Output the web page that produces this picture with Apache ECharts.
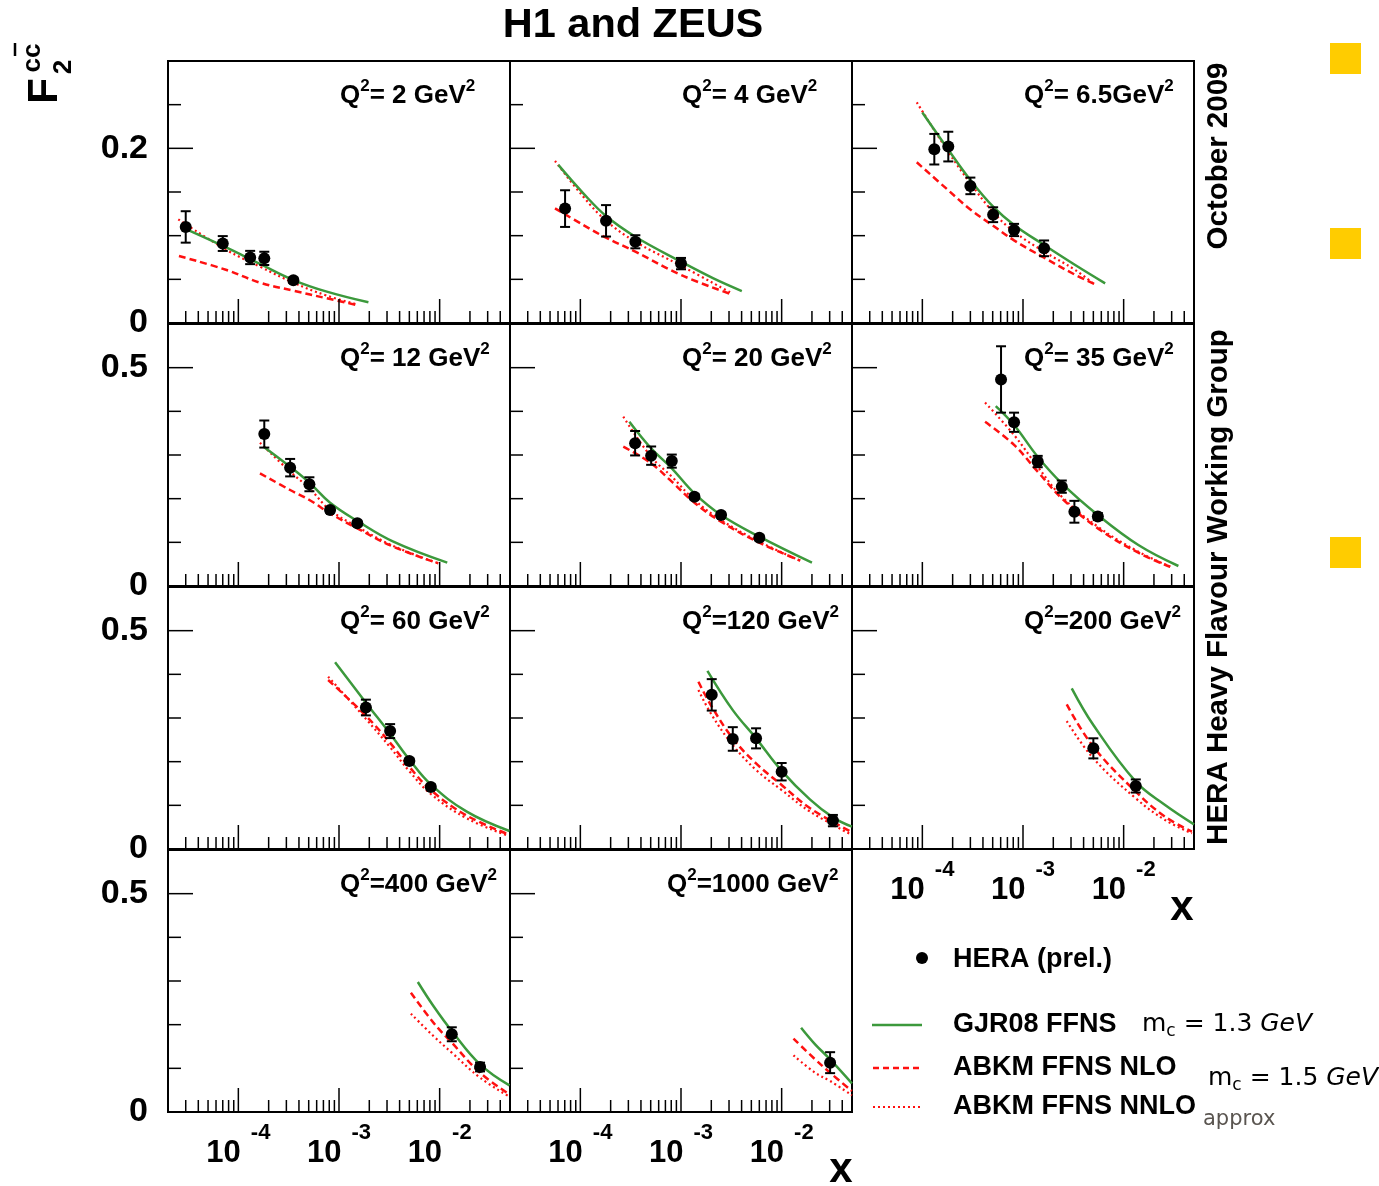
<!DOCTYPE html>
<html><head><meta charset="utf-8">
<script src="https://cdn.jsdelivr.net/npm/echarts@6/dist/echarts.min.js"></script>
<style>html,body{margin:0;padding:0;background:#fff}#c{width:1379px;height:1186px}</style>
</head><body><div id="c"></div>
<script>
// ================= DATA =================
// HERA points: [x, F2cc, total error]; theory curves: [x, F2cc]
const panelLabels = ['= 2 GeV','= 4 GeV','= 6.5GeV','= 12 GeV','= 20 GeV','= 35 GeV','= 60 GeV','=120 GeV','=200 GeV','=400 GeV','=1000 GeV'];

const hera_2   = [[3.0e-5,0.110,0.018],[7.0e-5,0.091,0.0085],[1.31e-4,0.075,0.0076],[1.81e-4,0.074,0.0076],[3.52e-4,0.049,0.003]];
const gjr_2    = [[3.26e-5,0.1057],[7.65e-5,0.0862],[1.64e-4,0.0676],[3.52e-4,0.0492],[7.57e-4,0.0359],[1.96e-3,0.0237]];
const nlo_2    = [[2.57e-5,0.0767],[7.65e-5,0.0607],[1.64e-4,0.0462],[3.52e-4,0.037],[7.57e-4,0.0283],[1.5e-3,0.0206]];
const nnlo_2   = [[2.53e-5,0.1187],[7.65e-5,0.0836],[1.64e-4,0.0645],[3.52e-4,0.0462],[7.57e-4,0.0313],[1.5e-3,0.0214]];

const hera_4   = [[7.05e-5,0.131,0.021],[1.8e-4,0.117,0.018],[3.52e-4,0.093,0.0075],[1.0e-3,0.068,0.0065]];
const gjr_4    = [[6.04e-5,0.181],[1.07e-4,0.1485],[1.8e-4,0.1225],[3.52e-4,0.0988],[1.0e-3,0.0702],[2.1e-3,0.0511],[4.02e-3,0.0366]];
const nlo_4    = [[5.6e-5,0.1313],[1.07e-4,0.1122],[1.8e-4,0.0977],[3.52e-4,0.0817],[1.0e-3,0.055],[3.2e-3,0.0328]];
const nnlo_4   = [[5.6e-5,0.1855],[1.07e-4,0.1446],[1.8e-4,0.1172],[3.52e-4,0.0931],[1.0e-3,0.0656],[3.2e-3,0.034]];

const hera_6p5 = [[1.315e-4,0.199,0.0175],[1.81e-4,0.202,0.017],[3.0e-4,0.157,0.0095],[5.05e-4,0.124,0.0085],[8.15e-4,0.1065,0.007],[1.62e-3,0.0855,0.009]];
const gjr_6p5  = [[1.0e-4,0.241],[1.81e-4,0.1985],[3.0e-4,0.1637],[5.05e-4,0.1332],[8.15e-4,0.1122],[1.62e-3,0.0893],[3.3e-3,0.0664],[6.55e-3,0.0454]];
const nlo_6p5  = [[8.8e-5,0.184],[1.81e-4,0.152],[3.0e-4,0.130],[5.05e-4,0.1114],[8.15e-4,0.0946],[1.62e-3,0.0748],[3.3e-3,0.0552],[5.2e-3,0.0443]];
const nnlo_6p5 = [[8.8e-5,0.2527],[1.81e-4,0.196],[3.0e-4,0.16],[5.05e-4,0.127],[8.15e-4,0.1046],[1.62e-3,0.0817],[3.3e-3,0.0607],[5.2e-3,0.0435]];

const hera_12  = [[1.81e-4,0.348,0.031],[3.27e-4,0.271,0.02],[5.08e-4,0.233,0.016],[8.15e-4,0.174,0.006],[1.52e-3,0.1435,0.006]];
const gjr_12   = [[1.78e-4,0.319],[3.27e-4,0.273],[5.08e-4,0.2366],[8.15e-4,0.1908],[1.52e-3,0.149],[3.47e-3,0.1015],[1.19e-2,0.0534]];
const nlo_12   = [[1.64e-4,0.258],[3.27e-4,0.2198],[5.08e-4,0.197],[8.15e-4,0.1664],[1.52e-3,0.132],[3.47e-3,0.09],[9.7e-3,0.0519]];
const nnlo_12  = [[1.64e-4,0.328],[3.27e-4,0.2618],[5.08e-4,0.2237],[8.15e-4,0.174],[1.52e-3,0.1358],[3.47e-3,0.0916],[9.7e-3,0.0519]];

const hera_20  = [[3.5e-4,0.327,0.028],[5.05e-4,0.2985,0.021],[8.1e-4,0.286,0.015],[1.36e-3,0.2046,0.006],[2.5e-3,0.1626,0.006],[6.0e-3,0.1107,0.006]];
const gjr_20   = [[3.07e-4,0.3763],[5.05e-4,0.3153],[8.1e-4,0.2695],[1.36e-3,0.2122],[2.5e-3,0.1626],[6.0e-3,0.113],[2.0e-2,0.0534]];
const nlo_20   = [[2.67e-4,0.319],[5.05e-4,0.281],[8.1e-4,0.239],[1.36e-3,0.1908],[2.5e-3,0.1473],[6.0e-3,0.0992],[1.53e-2,0.058]];
const nnlo_20  = [[2.67e-4,0.3877],[5.05e-4,0.296],[8.1e-4,0.2504],[1.36e-3,0.197],[2.5e-3,0.151],[6.0e-3,0.1015],[1.53e-2,0.058]];

const hera_35  = [[6.05e-4,0.473,0.076],[8.15e-4,0.375,0.022],[1.4e-3,0.285,0.013],[2.43e-3,0.2275,0.014],[3.24e-3,0.170,0.025],[5.54e-3,0.159,0.008]];
const gjr_35   = [[5.36e-4,0.412],[8.15e-4,0.3687],[1.4e-3,0.296],[2.43e-3,0.235],[5.54e-3,0.1626],[1.4e-2,0.0939],[3.5e-2,0.0458]];
const nlo_35   = [[4.2e-4,0.376],[8.15e-4,0.323],[1.4e-3,0.2618],[2.43e-3,0.2008],[5.54e-3,0.132],[1.4e-2,0.0763],[2.9e-2,0.044]];
const nnlo_35  = [[4.2e-4,0.42],[8.15e-4,0.3458],[1.4e-3,0.273],[2.43e-3,0.2046],[5.54e-3,0.1358],[1.4e-2,0.0786],[2.9e-2,0.0443]];

const hera_60  = [[1.85e-3,0.324,0.018],[3.22e-3,0.270,0.016],[5.0e-3,0.2015,0.006],[8.17e-3,0.142,0.006]];
const gjr_60   = [[9.14e-4,0.4275],[1.85e-3,0.335],[3.22e-3,0.264],[5.0e-3,0.205],[8.17e-3,0.148],[1.86e-2,0.0855],[4.94e-2,0.0412]];
const nlo_60   = [[7.8e-4,0.387],[1.85e-3,0.305],[3.22e-3,0.243],[5.0e-3,0.188],[8.17e-3,0.135],[1.86e-2,0.0765],[4.83e-2,0.0336]];
const nnlo_60  = [[7.8e-4,0.3947],[1.85e-3,0.298],[3.22e-3,0.233],[5.0e-3,0.178],[8.17e-3,0.126],[1.86e-2,0.0702],[4.83e-2,0.0305]];

const hera_120 = [[2.02e-3,0.353,0.036],[3.27e-3,0.252,0.027],[5.57e-3,0.2534,0.023],[1.0e-2,0.177,0.02],[3.23e-2,0.065,0.013]];
const gjr_120  = [[1.83e-3,0.408],[3.27e-3,0.318],[5.57e-3,0.2534],[1.0e-2,0.179],[1.92e-2,0.113],[3.23e-2,0.0725],[4.99e-2,0.0511]];
const nlo_120  = [[1.49e-3,0.383],[2.02e-3,0.326],[3.27e-3,0.2534],[5.57e-3,0.196],[1.0e-2,0.1466],[1.92e-2,0.0932],[4.88e-2,0.0397]];
const nnlo_120 = [[1.49e-3,0.364],[2.02e-3,0.307],[3.27e-3,0.238],[5.57e-3,0.181],[1.0e-2,0.135],[1.92e-2,0.0855],[4.88e-2,0.0336]];

const hera_200 = [[5.0e-3,0.2305,0.023],[1.32e-2,0.1443,0.015]];
const gjr_200  = [[3.05e-3,0.368],[5.0e-3,0.284],[1.32e-2,0.1542],[2.58e-2,0.1008],[5.0e-2,0.0565]];
const nlo_200  = [[2.72e-3,0.331],[5.0e-3,0.2343],[1.32e-2,0.1313],[2.58e-2,0.074],[4.77e-2,0.0397]];
const nnlo_200 = [[2.72e-3,0.293],[5.0e-3,0.2077],[1.32e-2,0.116],[2.58e-2,0.0664],[4.77e-2,0.0359]];

const hera_400 = [[1.32e-2,0.178,0.016],[2.52e-2,0.103,0.01]];
const gjr_400  = [[6.07e-3,0.2977],[8.67e-3,0.2427],[1.32e-2,0.1855],[2.52e-2,0.1092],[4.94e-2,0.061]];
const nlo_400  = [[5.18e-3,0.2733],[8.67e-3,0.2046],[1.32e-2,0.1588],[2.52e-2,0.09],[4.94e-2,0.0405]];
const nnlo_400 = [[5.18e-3,0.2252],[8.67e-3,0.174],[1.32e-2,0.1359],[2.52e-2,0.0786],[4.94e-2,0.0351]];

const hera_1000 = [[3.03e-2,0.113,0.024]];
const gjr_1000  = [[1.56e-2,0.193],[2.15e-2,0.155],[3.03e-2,0.1206],[4.99e-2,0.0657]];
const nlo_1000  = [[1.31e-2,0.168],[2.15e-2,0.1206],[3.03e-2,0.09],[4.99e-2,0.048]];
const nnlo_1000 = [[1.31e-2,0.1298],[2.15e-2,0.09],[3.03e-2,0.071],[4.99e-2,0.0382]];

// axis ticks
const xMajorTicks = [1e-4, 1e-3, 1e-2];
const xMinorTicks = [3e-5,4e-5,5e-5,6e-5,7e-5,8e-5,9e-5, 2e-4,3e-4,4e-4,5e-4,6e-4,7e-4,8e-4,9e-4,
                     2e-3,3e-3,4e-3,5e-3,6e-3,7e-3,8e-3,9e-3, 2e-2,3e-2,4e-2];
const yMajorTicksTop = [0.2];
const yMinorTicksTop = [0.05, 0.1, 0.15, 0.25];
const yMajorTicks = [0.5];
const yMinorTicks = [0.1, 0.2, 0.3, 0.4];
const X_MIN = 2e-5, X_MAX = 0.05;
const Y_MAX_TOP = 0.3, Y_MAX = 0.6;

// ================= STYLE / LAYOUT =================
const FONT = '"Liberation Sans", Arial, Helvetica, sans-serif';
const GREEN = '#3c993c', RED = '#ff1010';
const colLeft = [168, 510, 852], colWidth = 342;
const rowTop = [61, 324, 587, 850], rowHeight = 262;

const panels = [
  [hera_2, gjr_2, nlo_2, nnlo_2],
  [hera_4, gjr_4, nlo_4, nnlo_4],
  [hera_6p5, gjr_6p5, nlo_6p5, nnlo_6p5],
  [hera_12, gjr_12, nlo_12, nnlo_12],
  [hera_20, gjr_20, nlo_20, nnlo_20],
  [hera_35, gjr_35, nlo_35, nnlo_35],
  [hera_60, gjr_60, nlo_60, nnlo_60],
  [hera_120, gjr_120, nlo_120, nnlo_120],
  [hera_200, gjr_200, nlo_200, nnlo_200],
  [hera_400, gjr_400, nlo_400, nnlo_400],
  [hera_1000, gjr_1000, nlo_1000, nnlo_1000]
];
const xLabelPanels = [8, 9, 10];

function xTickRender(len) {
  return function (params, api) {
    const p = api.coord([api.value(0), api.value(1)]);
    return { type: 'line', shape: { x1: p[0], y1: p[1], x2: p[0], y2: p[1] - len },
             style: { stroke: '#000', lineWidth: 1.5 } };
  };
}
function yTickRender(len) {
  return function (params, api) {
    const p = api.coord([api.value(0), api.value(1)]);
    return { type: 'line', shape: { x1: p[0], y1: p[1], x2: p[0] + len, y2: p[1] },
             style: { stroke: '#000', lineWidth: 1.5 } };
  };
}
function errRender(params, api) {
  const x = api.value(0), y = api.value(1), e = api.value(2);
  const t = api.coord([x, y + e]), b = api.coord([x, y - e]);
  const w = 5, st = { stroke: '#000', lineWidth: 2 };
  return { type: 'group', children: [
    { type: 'line', shape: { x1: t[0], y1: t[1], x2: b[0], y2: b[1] }, style: st },
    { type: 'line', shape: { x1: t[0] - w, y1: t[1], x2: t[0] + w, y2: t[1] }, style: st },
    { type: 'line', shape: { x1: b[0] - w, y1: b[1], x2: b[0] + w, y2: b[1] }, style: st }
  ]};
}

const grids = [], xAxes = [], yAxes = [], series = [], graphics = [];

panels.forEach((pn, i) => {
  const row = Math.floor(i / 3), col = i % 3;
  const [hera, gjr, nlo, nnlo] = pn;
  grids.push({ left: colLeft[col], top: rowTop[row], width: colWidth, height: rowHeight,
    show: true, borderColor: '#000', borderWidth: 2, containLabel: false, outerBoundsMode: 'none' });
  const showX = xLabelPanels.indexOf(i) >= 0;
  xAxes.push({ gridIndex: i, type: 'log', logBase: 10, min: X_MIN, max: X_MAX,
    axisLine: { show: false }, axisTick: { show: false }, splitLine: { show: false },
    axisLabel: { show: showX, interval: 0, showMinLabel: false, showMaxLabel: false, margin: 10,
      formatter: v => '{b|10}{s|' + Math.round(Math.log10(v)) + '}',
      rich: { b: { fontSize: 31, fontWeight: 'bold', fontFamily: FONT, color: '#000' },
              s: { fontSize: 22, fontWeight: 'bold', fontFamily: FONT, color: '#000', padding: [0, 0, 40, 10] } } } });
  const top = row === 0;
  yAxes.push({ gridIndex: i, type: 'value', min: 0, max: top ? Y_MAX_TOP : Y_MAX, interval: top ? 0.2 : 0.5,
    axisLine: { show: false }, axisTick: { show: false }, splitLine: { show: false },
    axisLabel: { show: col === 0, showMaxLabel: false, margin: 20, fontSize: 34, fontWeight: 'bold',
      fontFamily: FONT, color: '#000', formatter: v => String(v) } });

  const ax = { xAxisIndex: i, yAxisIndex: i };
  series.push(Object.assign({ type: 'line', data: nlo, smooth: 0.4, showSymbol: false, symbol: 'none', silent: true,
    lineStyle: { color: RED, width: 2.5, type: [7, 4] }, z: 2 }, ax));
  series.push(Object.assign({ type: 'line', data: nnlo, smooth: 0.4, showSymbol: false, symbol: 'none', silent: true,
    lineStyle: { color: RED, width: 2.2, type: [2, 3] }, z: 2 }, ax));
  series.push(Object.assign({ type: 'line', data: gjr, smooth: 0.4, showSymbol: false, symbol: 'none', silent: true,
    lineStyle: { color: GREEN, width: 2.5 }, z: 3 }, ax));
  series.push(Object.assign({ type: 'custom', data: hera, renderItem: errRender, z: 4, silent: true }, ax));
  series.push(Object.assign({ type: 'scatter', data: hera.map(d => [d[0], d[1]]), symbol: 'circle', symbolSize: 12,
    itemStyle: { color: '#000', opacity: 1 }, z: 5, silent: true }, ax));
  series.push(Object.assign({ type: 'custom', data: xMajorTicks.map(v => [v, 0]), renderItem: xTickRender(24), z: 6, silent: true }, ax));
  series.push(Object.assign({ type: 'custom', data: xMinorTicks.map(v => [v, 0]), renderItem: xTickRender(12), z: 6, silent: true }, ax));
  series.push(Object.assign({ type: 'custom', data: (top ? yMajorTicksTop : yMajorTicks).map(v => [X_MIN, v]), renderItem: yTickRender(25), z: 6, silent: true }, ax));
  series.push(Object.assign({ type: 'custom', data: (top ? yMinorTicksTop : yMinorTicks).map(v => [X_MIN, v]), renderItem: yTickRender(13), z: 6, silent: true }, ax));

  // panel label
  const off = i === 10 ? 157 : 172;
  graphics.push({ type: 'text', x: colLeft[col] + off, y: rowTop[row] + 35,
    style: { text: '{q|Q}{s|2}{q|' + panelLabels[i] + '}{s|2}', align: 'left', textAlign: 'left', verticalAlign: 'middle', textVerticalAlign: 'middle',
      rich: { q: { fontSize: 26, fontWeight: 'bold', fontFamily: FONT, fill: '#000', color: '#000' },
              s: { fontSize: 17, fontWeight: 'bold', fontFamily: FONT, fill: '#000', color: '#000', padding: [0, 0, 20, 0] } } } });
});

function txt(x, y, text, size, extra) {
  return Object.assign({ type: 'text', x: x, y: y,
    style: Object.assign({ text: text, fontSize: size, fontWeight: 'bold', fontFamily: FONT, fill: '#000',
      align: 'left', textAlign: 'left', verticalAlign: 'middle', textVerticalAlign: 'middle' }, extra && extra.style) },
    extra && extra.el);
}

// main title
graphics.push(txt(633, 26, 'H1 and ZEUS', 41.5, { style: { align: 'center', textAlign: 'center' } }));
// y title F2^{cc̄}
graphics.push(txt(45, 91, 'F', 42, { el: { rotation: Math.PI / 2 }, style: { align: 'center', textAlign: 'center' } }));
graphics.push(txt(64, 67, '2', 26, { el: { rotation: Math.PI / 2 }, style: { align: 'center', textAlign: 'center' } }));
graphics.push(txt(33, 58, 'cc', 26, { el: { rotation: Math.PI / 2 }, style: { align: 'center', textAlign: 'center' } }));
graphics.push({ type: 'line', shape: { x1: 15, y1: 43, x2: 15, y2: 56 }, style: { stroke: '#000', lineWidth: 2.5 } });
// right side texts
graphics.push(txt(1219, 156, 'October 2009', 29.5, { el: { rotation: Math.PI / 2 }, style: { align: 'center', textAlign: 'center' } }));
graphics.push(txt(1219, 587, 'HERA Heavy Flavour Working Group', 29.5, { el: { rotation: Math.PI / 2 }, style: { align: 'center', textAlign: 'center' } }));
// yellow squares
[43, 228, 537].forEach(y => graphics.push({ type: 'rect', shape: { x: 1330, y: y, width: 31, height: 31 }, style: { fill: '#ffcc00' } }));
// x axis names
graphics.push(txt(841, 1170, 'x', 42, { style: { align: 'center', textAlign: 'center' } }));
graphics.push(txt(1182, 908, 'x', 42, { style: { align: 'center', textAlign: 'center' } }));
// legend
graphics.push({ type: 'circle', shape: { cx: 922, cy: 958, r: 6 }, style: { fill: '#000' } });
graphics.push(txt(953, 960, 'HERA (prel.)', 27));
graphics.push({ type: 'line', shape: { x1: 872, y1: 1025, x2: 922, y2: 1025 }, style: { stroke: GREEN, lineWidth: 2.5 } });
graphics.push(txt(953, 1025, 'GJR08 FFNS', 27));
graphics.push({ type: 'line', shape: { x1: 873, y1: 1068, x2: 922, y2: 1068 }, style: { stroke: RED, lineWidth: 2.5, lineDash: [6, 4] } });
graphics.push(txt(953, 1068, 'ABKM FFNS NLO', 27));
graphics.push({ type: 'line', shape: { x1: 873, y1: 1107, x2: 922, y2: 1107 }, style: { stroke: RED, lineWidth: 2, lineDash: [2, 3] } });
graphics.push(txt(953, 1107, 'ABKM FFNS NNLO', 27));
const CFONT = '"DejaVu Sans", sans-serif';
graphics.push(txt(1203, 1120, 'approx', 21, { style: { fontWeight: 'normal', fontFamily: CFONT, fill: '#5a5550' } }));
const mcRich = { m: { fontSize: 25, fontFamily: CFONT, fill: '#000', color: '#000' },
                 c: { fontSize: 17, fontFamily: CFONT, fill: '#000', color: '#000', padding: [16, 0, 0, 0] },
                 g: { fontSize: 25, fontFamily: CFONT, fontStyle: 'italic', fill: '#000', color: '#000' } };
graphics.push({ type: 'text', x: 1142, y: 1024, style: { text: '{m|m}{c|c}{m| = 1.3 }{g|GeV}', rich: mcRich, verticalAlign: 'middle', textVerticalAlign: 'middle' } });
graphics.push({ type: 'text', x: 1208, y: 1078, style: { text: '{m|m}{c|c}{m| = 1.5 }{g|GeV}', rich: mcRich, verticalAlign: 'middle', textVerticalAlign: 'middle' } });

const chart = echarts.init(document.getElementById('c'), null, { renderer: 'canvas' });
chart.setOption({
  animation: false,
  backgroundColor: '#fff',
  grid: grids, xAxis: xAxes, yAxis: yAxes, series: series, graphic: graphics
});
</script></body></html>
